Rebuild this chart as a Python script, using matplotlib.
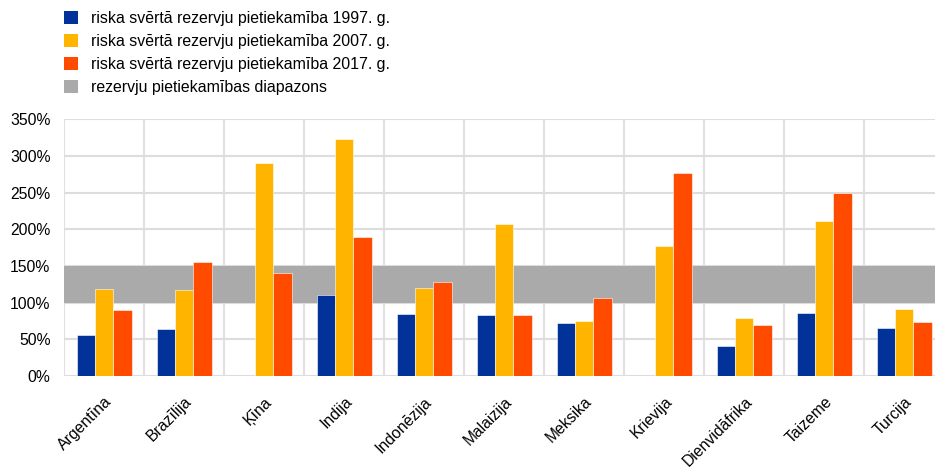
import matplotlib
matplotlib.use("Agg")
import matplotlib.pyplot as plt
from matplotlib.patches import Patch
from matplotlib.ticker import FuncFormatter, MultipleLocator
import numpy as np

plt.rcParams['font.family'] = ['Liberation Sans', 'DejaVu Sans']

countries = ["Argentīna", "Brazīlija", "Ķīna", "Indija", "Indonēzija", "Malaizija",
             "Meksika", "Krievija", "Dienvidāfrika", "Taizeme", "Turcija"]
ratio_1997 = [55.5, 64, np.nan, 110, 84.5, 83.5, 72, np.nan, 41, 85.5, 65]
ratio_2007 = [118.5, 117, 290.5, 322.5, 120, 207, 74.5, 177, 79, 211, 91]
ratio_2017 = [89.5, 155, 140, 189.5, 128, 82.5, 106.5, 277, 70, 250, 73.5]
adequacy_range = (100, 150)

labels = ["riska svērtā rezervju pietiekamība 1997. g.",
          "riska svērtā rezervju pietiekamība 2007. g.",
          "riska svērtā rezervju pietiekamība 2017. g.",
          "rezervju pietiekamības diapazons"]
colors = ["#003299", "#FFB400", "#FF4B00", "#AAAAAA"]

W, H = 935, 471
fig = plt.figure(figsize=(W / 100, H / 100), dpi=100)
ax = fig.add_axes([64.3 / W, 1 - 376 / H, (W - 64.3) / W, (376 - 119.3) / H])

n = len(countries)
centers = np.arange(n) + 0.5
bw = 0.228

# reserve adequacy band
ax.axhspan(adequacy_range[0], adequacy_range[1], color=colors[3], lw=0, zorder=1)

for k, vals in enumerate([ratio_1997, ratio_2007, ratio_2017]):
    ax.bar(centers + (k - 1) * bw, vals, width=bw, color=colors[k],
           edgecolor='white', linewidth=0.4, zorder=3)

ax.set_xlim(0, (W - 64.3) / 80.0)
ax.set_ylim(0, 350)
ax.yaxis.set_major_locator(MultipleLocator(50))
ax.yaxis.set_major_formatter(FuncFormatter(lambda v, p: f"{v:.0f}%"))

# category separators and horizontal gridlines
for xg in range(0, n + 1):
    ax.axvline(xg, color="#E0E0E0", lw=1.5, zorder=0)
for yg in range(0, 351, 50):
    ax.axhline(yg, color="#DDDDDD", lw=1.5, zorder=0 if yg else 2)

for s in ax.spines.values():
    s.set_visible(False)

ax.set_xticks(centers)
ax.set_xticklabels(countries, rotation=45, ha='right', rotation_mode='anchor',
                   fontsize=11.3, color="#000000")
ax.tick_params(axis='x', length=0, pad=13)
ax.tick_params(axis='y', length=0, pad=10, labelsize=11.3, labelcolor="#000000")

handles = [Patch(facecolor=c, edgecolor='none') for c in colors]
fig.legend(handles, labels, loc='upper left', bbox_to_anchor=(64 / W, 1 - 11 / H),
           frameon=False, fontsize=11.4, borderpad=0, borderaxespad=0,
           handlelength=0.9, handleheight=0.9, handletextpad=0.8,
           labelspacing=0.5)

fig.savefig("out.png", dpi=100)
